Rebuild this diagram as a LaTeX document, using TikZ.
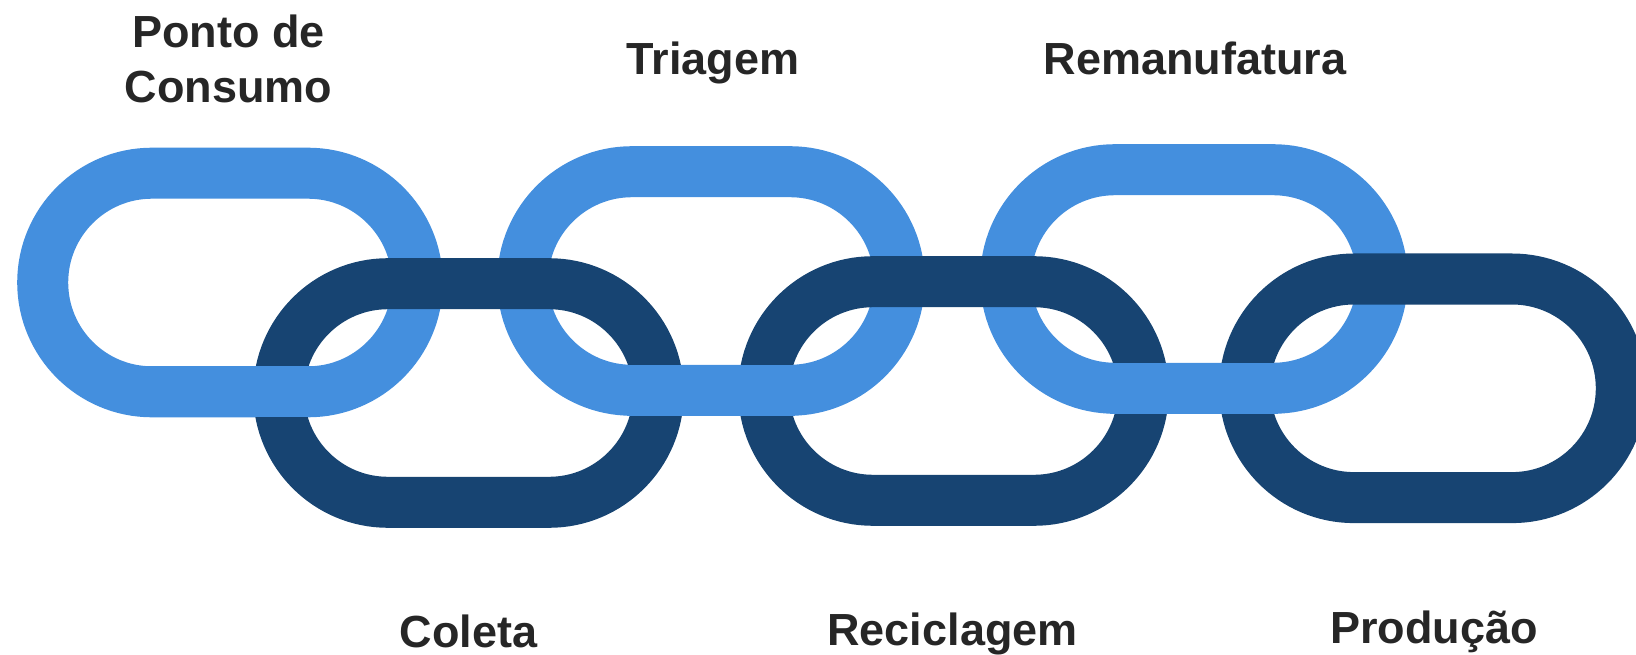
\documentclass[tikz,border=0pt]{standalone}
\usepackage{fontspec}
\setmainfont{Liberation Sans}
\definecolor{linklight}{HTML}{448FDE}
\definecolor{linkdark}{HTML}{174472}
\definecolor{labelgray}{HTML}{262626}

% one chain link: #1 style, #2 left end of straight part, #3 centre y (negative), #4 straight length
\newcommand{\chainring}[4]{%
  \draw[#1] (#2,#3+109.3) -- ++(#4,0) arc(90:-90:109.3) -- ++(-#4,0) arc(270:90:109.3) -- cycle;}
% bottom straight band of a light link, laid over the dark links it passes
\newcommand{\chainbottom}[3]{%
  \draw[lightband] (#1-5,#2-109.3) -- ++(#3+10,0);}

\begin{document}
\begin{tikzpicture}[x=1pt,y=1pt,
  lightring/.style={line width=51pt, draw=linklight},
  darkring/.style={line width=51pt, draw=linkdark},
  lightband/.style={line width=51pt, draw=linklight, line cap=butt},
  stage/.style={font=\fontsize{45}{55}\selectfont\bfseries, text=labelgray, inner sep=0pt, anchor=base}]
\useasboundingbox (0,0) rectangle (1636,-655);
\clip (0,0) rectangle (1636,-655);

% light links
\chainring{lightring}{152}{-282.5}{156}
\chainring{lightring}{632}{-281}{158}
\chainring{lightring}{1115}{-279}{158}
% dark links
\chainring{darkring}{388}{-393}{161}
\chainring{darkring}{873}{-391}{161}
\chainring{darkring}{1354}{-388.3}{158}
% light bottom bands pass over the dark links
\chainbottom{152}{-282.5}{156}
\chainbottom{632}{-281}{158}
\chainbottom{1115}{-279}{158}

% stage labels
\node[stage] (consumo1) at (228.6,-48) {Ponto de};
\node[stage] (consumo2) at (228.6,-102.5) {Consumo};
\node[stage] (triagem) at (713,-75) {Triagem};
\node[stage] (reman) at (1195,-75) {Remanufatura};
\node[stage] (coleta) at (468.7,-647) {Coleta};
\node[stage] (recic) at (952.5,-645) {Reciclagem};
\node[stage] (producao) at (1434,-643) {Produção};
\end{tikzpicture}
\end{document}
